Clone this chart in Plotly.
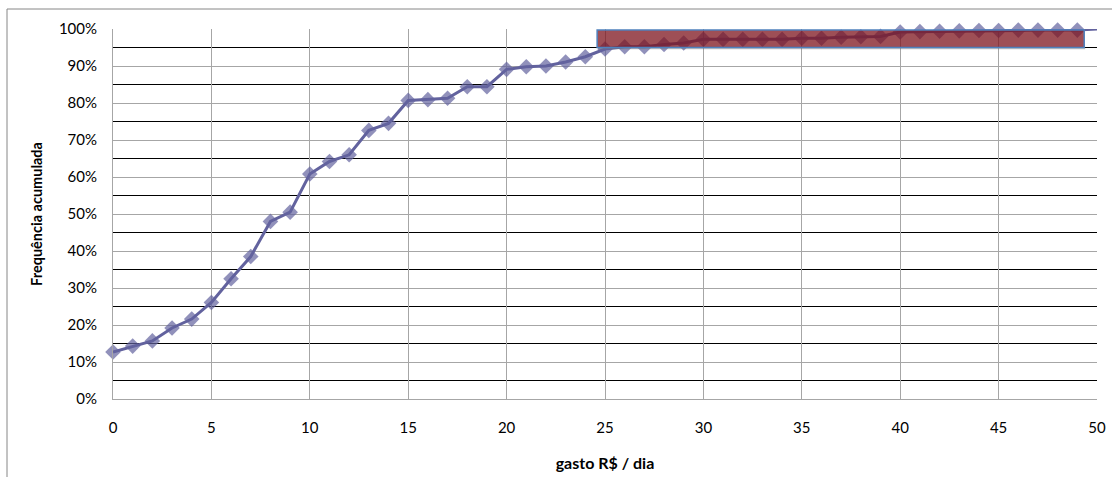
import plotly.graph_objects as go

gasto = list(range(0, 51))
freq_acum = [
    0.127, 0.143, 0.157, 0.192, 0.216, 0.261, 0.325, 0.385, 0.480, 0.505,
    0.608, 0.642, 0.660, 0.726, 0.745, 0.807, 0.809, 0.813, 0.844, 0.844,
    0.891, 0.898, 0.900, 0.911, 0.925, 0.946, 0.952, 0.952, 0.958, 0.962,
    0.972, 0.972, 0.972, 0.972, 0.972, 0.975, 0.975, 0.978, 0.979, 0.980,
    0.992, 0.993, 0.994, 0.995, 0.996, 0.996, 0.997, 0.997, 0.997, 0.997,
    1.000,
]
x_ticks = [0, 5, 10, 15, 20, 25, 30, 35, 40, 45, 50]
y_ticks = [i / 10 for i in range(11)]
y_labels = [f"{i * 10}%" for i in range(11)]
highlight_x = [24.6, 49.35]
highlight_y = [0.950, 0.997]

font_family = "Lato, Carlito, Calibri, 'Liberation Sans', sans-serif"
line_color = "#62629E"

marker_sizes = [12] * (len(gasto) - 1) + [0]

fig = go.Figure()
fig.add_trace(go.Scatter(
    x=gasto, y=freq_acum, mode="lines+markers",
    line=dict(color=line_color, width=3),
    marker=dict(symbol="diamond", size=marker_sizes, color=line_color,
                line=dict(width=0)),
    cliponaxis=False, showlegend=False, hoverinfo="x+y",
))

# shadow + highlighted rectangle
fig.add_shape(type="rect", xref="x", yref="y",
              x0=highlight_x[0] + 0.05, x1=highlight_x[1] + 0.05,
              y0=highlight_y[0] - 0.005, y1=highlight_y[0] + 0.002,
              fillcolor="rgba(120,120,120,0.45)", line=dict(width=0), layer="above")
fig.add_shape(type="rect", xref="x", yref="y",
              x0=highlight_x[0], x1=highlight_x[1],
              y0=highlight_y[0], y1=highlight_y[1],
              fillcolor="rgba(125,20,30,0.75)",
              line=dict(color="#4F81BD", width=1.5), layer="above")

# chart-area border (extends beyond window to the right and bottom)
fig.add_shape(type="rect", xref="paper", yref="paper",
              x0=-106 / 984, x1=1.2, y0=-0.3, y1=1 + 20 / 370,
              line=dict(color="#868686", width=1), fillcolor="rgba(0,0,0,0)",
              layer="below")

fig.update_layout(
    width=1112, height=477,
    margin=dict(l=113, r=15, t=29, b=78),
    paper_bgcolor="white", plot_bgcolor="white",
    font=dict(family=font_family, size=15, color="black"),
)
fig.update_xaxes(
    range=[0, 50], tickvals=x_ticks, ticktext=[str(v) for v in x_ticks],
    showgrid=True, gridcolor="#A6A6A6", gridwidth=1,
    showline=True, linecolor="#A6A6A6", linewidth=1,
    zeroline=False, ticks="", ticklabelstandoff=15, automargin=False,
    title=dict(text="<b>gasto R$ / dia</b>", font=dict(size=16), standoff=22),
)
fig.update_yaxes(
    range=[0, 1], tickvals=y_ticks, ticktext=y_labels,
    showgrid=True, gridcolor="#A6A6A6", gridwidth=1,
    showline=True, linecolor="#A6A6A6", linewidth=1,
    zeroline=False, ticks="", ticklabelstandoff=12, automargin=False,
    minor=dict(tickvals=[0.05 + i / 10 for i in range(10)], showgrid=True,
               gridcolor="black", gridwidth=1),
    title=dict(text="<b>Frequência acumulada</b>", font=dict(size=14.5), standoff=12),
)

fig.write_html("out.html")
